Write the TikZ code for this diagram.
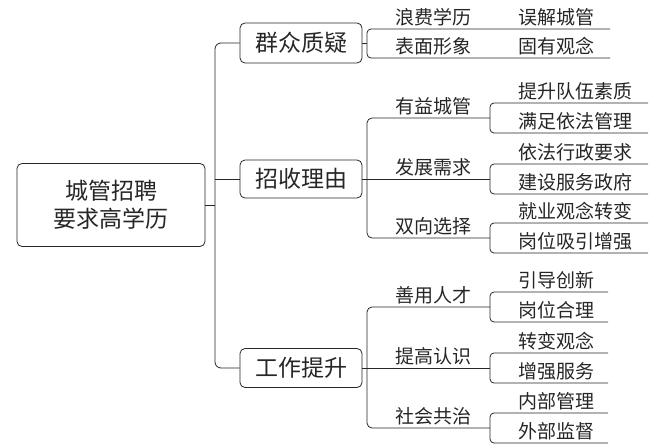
\documentclass[tikz,border=0pt]{standalone}
\usepackage{fontspec}
\setmainfont{Noto Sans CJK SC}
\begin{document}
\begin{tikzpicture}[x=1pt,y=-1pt,
  ln/.style={draw=black!85,line width=0.8pt},
  bx/.style={draw=black!85,line width=0.8pt,rounded corners=5pt,minimum width=122pt,inner sep=0pt,font=\fontsize{23}{23}\selectfont,text=black!85},
  lb/.style={anchor=south west,inner sep=0pt,font=\fontsize{19}{19}\selectfont,text=black!85}]
\useasboundingbox (0,0) rectangle (665,447);
\node[bx,minimum width=188pt,minimum height=83pt,align=center,font=\fontsize{23}{28}\selectfont] (root) at (111,205) {城管招聘\\要求高学历};
\node[bx,minimum height=40pt] (q) at (301,43) {群众质疑};
\node[bx,minimum height=38pt] (z) at (301,179) {招收理由};
\node[bx,minimum height=39pt] (g) at (301,368) {工作提升};
% root bracket
\coordinate (rb) at (215,205);
\draw[ln] (root.east) -- (rb);
\draw[ln,rounded corners=6pt] (q.west) -| (rb) |- (g.west);
\draw[ln] (rb|-z.west) -- (z.west);
% 群众质疑
\coordinate (q1) at (610,29);
\coordinate (q2) at (610,58);
\draw[ln] (q.east) -- (367,43);
\draw[ln,rounded corners=4pt] (q1) -- (367,29) -- (367,58) -- (q2);
\node[lb] (qa) at (395,26) {浪费学历};
\node[lb] (qb) at (518,26) {误解城管};
\node[lb] (qc) at (395,55) {表面形象};
\node[lb] (qd) at (518,55) {固有观念};
% level-2 brackets
\draw[ln] (z.east) -- (367,179);
\draw[ln,rounded corners=5pt] (490,118) -- (367,118) -- (367,238) -- (490,238);
\draw[ln] (367,179) -- (490,179);
\draw[ln] (g.east) -- (367,368);
\draw[ln,rounded corners=5pt] (490,307) -- (367,307) -- (367,428) -- (490,428);
\draw[ln] (367,368) -- (490,368);
\foreach \n/\y/\t/\a/\b/\e in {
  a/118/有益城管/提升队伍素质/满足依法管理/648,
  b/179/发展需求/依法行政要求/建设服务政府/648,
  c/238/双向选择/就业观念转变/岗位吸引增强/648,
  d/307/善用人才/引导创新/岗位合理/608,
  e/368/提高认识/转变观念/增强服务/608,
  f/428/社会共治/内部管理/外部监督/608}{
  \node[lb] (l\n) at (395,\y-3) {\t};
  \draw[ln,rounded corners=4pt] (\e,\y-15) -- (490,\y-15) -- (490,\y+15) -- (\e,\y+15);
  \node[lb] (l\n1) at (518,\y-18) {\a};
  \node[lb] (l\n2) at (518,\y+12) {\b};
}
\end{tikzpicture}
\end{document}
